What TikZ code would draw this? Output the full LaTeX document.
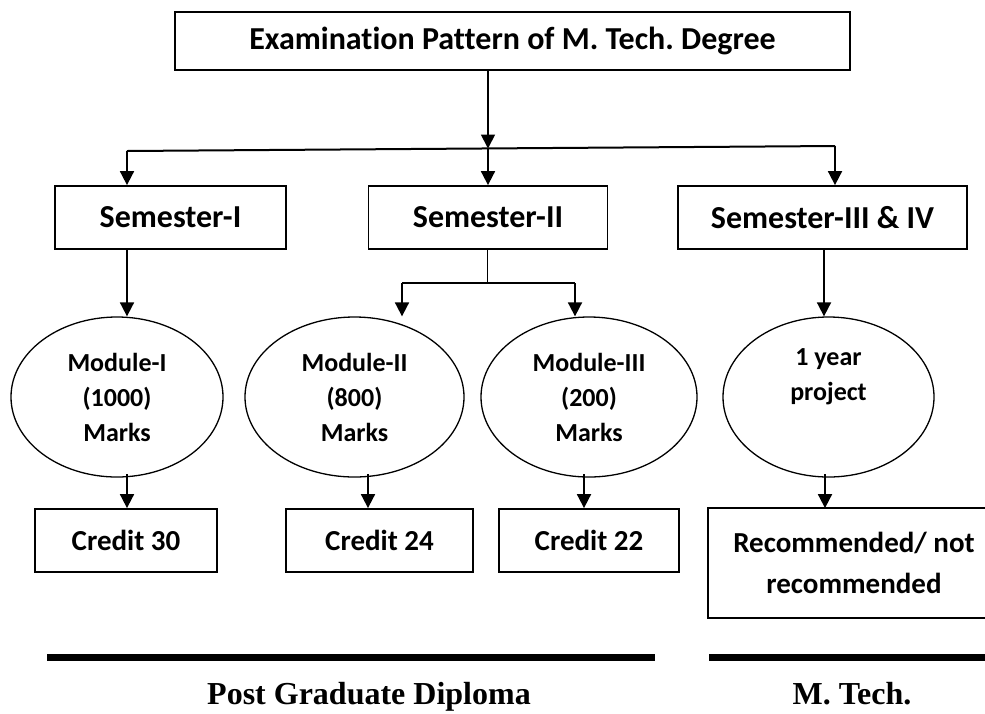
\documentclass[tikz,border=0pt]{standalone}
\usepackage{fontspec}
\setmainfont{Liberation Serif}
\newfontfamily\calib[Ligatures=NoCommon]{Carlito}
\usetikzlibrary{arrows.meta,shapes.geometric}
\frenchspacing
\tikzset{
  box/.style={draw, line width=1.8pt, rectangle, inner sep=0pt, font=\calib\bfseries\fontsize{32}{38}\selectfont},
  modl/.style={draw, line width=1.3pt, ellipse, inner sep=0pt, align=center, font=\calib\bfseries\fontsize{26}{35}\selectfont},
  cred/.style={draw, line width=1.8pt, rectangle, inner sep=0pt, font=\calib\bfseries\fontsize{29}{41}\selectfont},
  arr/.style={line width=1.8pt, -{Triangle[length=14pt,width=14pt]}},
  ln/.style={line width=2pt},
  thick bar/.style={line width=7pt},
  foot/.style={font=\bfseries\fontsize{32}{38}\selectfont, anchor=base}
}
\begin{document}
\frenchspacing
\begin{tikzpicture}[x=1pt,y=-1pt]
\useasboundingbox (0,0) rectangle (985,713);
% title
\node[box, minimum width=675pt, minimum height=58pt] (title) at (512.5,41) {Examination Pattern of M. Tech. Degree};
% semesters
\node[box, minimum width=231pt, minimum height=63pt] (s1) at (170.5,217.5) {Semester-I};
\node[box, minimum width=239pt, minimum height=63pt] (s2) at (488,217.5) {Semester-II};
\node[box, minimum width=289pt, minimum height=63pt] (s3) at (822.5,217.5) {Semester-III \& IV};
% bus
\coordinate (busL) at (127,151);
\coordinate (busM) at (488,148.5);
\coordinate (busR) at (835,146);
\draw[arr] (title.south -| busM) -- (busM);
\draw[ln] (busL) -- (busR);
\draw[arr] (busL) -- (s1.north -| busL);
\draw[arr] (busM) -- (s2.north -| busM);
\draw[arr] (busR) -- (s3.north -| busR);
% modules
\node[modl, minimum width=212pt, minimum height=160pt] (m1) at (117,397) {Module-I\\(1000)\\Marks};
\node[modl, minimum width=219pt, minimum height=160pt] (m2) at (354.5,397) {Module-II\\(800)\\Marks};
\node[modl, minimum width=216pt, minimum height=160pt] (m3) at (589,397) {Module-III\\(200)\\Marks};
\node[modl, minimum width=211pt, minimum height=160pt] (m4) at (828.5,397) {1 year\\project\\\strut};
% semester -> modules
\coordinate (a1) at (127,0);
\draw[arr] (s1.south -| a1) -- (m1.north -| a1);
\coordinate (sp) at (487,283);
\coordinate (spL) at (402,283);
\coordinate (spR) at (575,283);
\draw[line width=1pt] (s2.south -| sp) -- (sp);
\draw[ln] (spL) -- (spR);
\draw[arr] (spL) -- (m2.north -| spL);
\draw[arr] (spR) -- (m3.north -| spR);
\coordinate (a4) at (824,0);
\draw[arr] (s3.south -| a4) -- (m4.north -| a4);
% credits
\node[cred, minimum width=182pt, minimum height=63pt] (c1) at (126,540.5) {Credit 30};
\node[cred, minimum width=187pt, minimum height=63pt] (c2) at (379.5,540.5) {Credit 24};
\node[cred, minimum width=180pt, minimum height=63pt] (c3) at (589,540.5) {Credit 22};
\node[cred, draw=none, align=center, minimum width=290pt, minimum height=108pt] (c4) at (854,563) {Recommended/ not\\recommended};
\coordinate (edge) at (985,0);
\draw[line width=1.8pt] (c4.north -| edge) -- (c4.north west) -- (c4.south west) -- (c4.south -| edge);
% modules -> credits
\coordinate (b1) at (127,474);
\coordinate (b2) at (368,474);
\coordinate (b3) at (584,474);
\coordinate (b4) at (825,474);
\draw[arr] (b1) -- (c1.north -| b1);
\draw[arr] (b2) -- (c2.north -| b2);
\draw[arr] (b3) -- (c3.north -| b3);
\draw[arr] (b4) -- (c4.north -| b4);
% bars
\coordinate (barLa) at (47,657);
\coordinate (barLb) at (655,657);
\coordinate (barRa) at (709,657);
\coordinate (barRb) at (985,657);
\draw[thick bar] (barLa) -- (barLb);
\draw[thick bar] (barRa) -- (barRb);
\node[foot] (pgd) at (369,704) {Post Graduate Diploma};
\node[foot] (mt) at (852,704) {M. Tech.};
\end{tikzpicture}
\end{document}
